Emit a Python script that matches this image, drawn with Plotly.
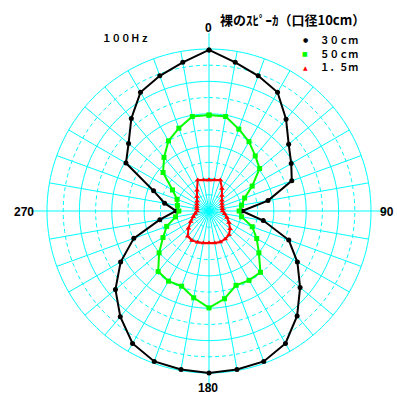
import plotly.graph_objects as go

# Measurement angles (degrees, clockwise from front)
angles = list(range(0, 360, 10))

# Relative level in dB, outer ring = 0 dB, centre = -50 dB
level_30cm = [-0.3, -3.4, -5.6, -7.7, -13.0, -17.9, -20.7, -22.8, -31.5, -39.8,
              -33.0, -23.8, -18.5, -13.3, -7.7, -2.8, -0.6, -0.3, 0.0, -0.3,
              -0.6, -2.8, -7.4, -12.3, -18.5, -25.3, -34.6, -39.8, -36.1, -31.8,
              -20.4, -17.6, -12.7, -7.7, -5.6, -3.4]
level_50cm = [-20.4, -20.4, -23.1, -25.3, -27.8, -29.6, -34.6, -38.3, -39.8, -40.7,
              -39.8, -35.8, -33.0, -29.9, -25.3, -25.3, -25.6, -22.5, -20.1, -22.8,
              -25.3, -25.0, -25.6, -29.9, -33.6, -36.1, -39.5, -40.7, -40.1, -39.5,
              -37.0, -31.5, -28.4, -25.0, -22.8, -20.4]
level_1_5m = [-40.4, -40.3, -39.8, -42.0, -43.8, -44.8, -45.4, -45.7, -45.8, -45.8,
              -45.1, -44.1, -42.9, -41.5, -40.4, -40.0, -39.8, -40.0, -40.1, -40.0,
              -39.7, -39.5, -39.8, -41.7, -43.5, -44.8, -45.7, -46.3, -46.2, -46.0,
              -45.7, -45.2, -44.2, -42.6, -39.8, -40.3]

series_names = ["３０ｃｍ", "５０ｃｍ", "１．５ｍ"]
series_colors = ["#000000", "#00ff00", "#ff0000"]
series_symbols = ["circle", "square", "triangle-up"]

axis_labels = ["0", "90", "180", "270"]

R_MIN, R_MAX, R_AXIS = -50, 0, 5
GRID = "#00ffff"

fig = go.Figure()

# Concentric rings every 5 dB: solid on the 10 dB steps, dashed between
ring_theta = [i * 2 for i in range(181)]
for lvl in range(-45, 1, 5):
    solid = (lvl % 10 == 0)
    fig.add_trace(go.Scatterpolar(
        r=[lvl] * len(ring_theta), theta=ring_theta, mode="lines",
        line=dict(color=GRID, width=1, dash="solid" if solid else "4px,3px"),
        hoverinfo="skip", showlegend=False))

# Spokes every 10 degrees; the four main axes run past the outer ring
sp_r, sp_t = [], []
for a in range(0, 360, 10):
    end = R_AXIS if a % 90 == 0 else R_MAX
    sp_r += [R_MIN, end, None]
    sp_t += [a, a, None]
fig.add_trace(go.Scatterpolar(r=sp_r, theta=sp_t, mode="lines",
                              line=dict(color=GRID, width=1),
                              hoverinfo="skip", showlegend=False))

# Directivity curves
for vals, name, col, sym in zip([level_30cm, level_50cm, level_1_5m],
                                series_names, series_colors, series_symbols):
    fig.add_trace(go.Scatterpolar(
        r=vals + vals[:1], theta=angles + angles[:1], mode="lines+markers",
        name=name, line=dict(color=col, width=2),
        marker=dict(color=col, symbol=sym, size=5),
        showlegend=False))

half = (R_AXIS - R_MIN) * 3.24  # pixel radius of the plotting frame
cx, cy, W, H = 209, 211, 397, 396
fig.update_layout(
    width=W, height=H, margin=dict(l=0, r=0, t=0, b=0),
    paper_bgcolor="white", plot_bgcolor="white",
    polar=dict(
        domain=dict(x=[(cx - half) / W, (cx + half) / W],
                    y=[(H - cy - half) / H, (H - cy + half) / H]),
        bgcolor="white",
        radialaxis=dict(range=[R_MIN, R_AXIS], visible=False),
        angularaxis=dict(rotation=90, direction="clockwise",
                         showticklabels=False, showgrid=False, showline=False,
                         ticks=""),
    ),
)

cjk = "Noto Sans CJK JP"
lab_font = dict(family="Liberation Sans", size=12, color="black")
anns = [
    dict(text="<b>裸のｽﾋﾟｰｶ（口径10cm）</b>", x=218, y=19, xanchor="left",
         font=dict(family=cjk, size=13, color="black")),
    dict(text="<b>１００Ｈｚ</b>", x=100, y=38, xanchor="left",
         font=dict(family=cjk, size=9.5, color="black")),
    # direction labels at the ends of the main axes
    dict(text="<b>" + axis_labels[0] + "</b>", x=208, y=28, xanchor="center", font=lab_font),
    dict(text="<b>" + axis_labels[1] + "</b>", x=396, y=212, xanchor="right", font=lab_font),
    dict(text="<b>" + axis_labels[2] + "</b>", x=208, y=388, xanchor="center", font=lab_font),
    dict(text="<b>" + axis_labels[3] + "</b>", x=12, y=212, xanchor="left", font=lab_font),
]
legend_rows = [40, 53.5, 67]
legend_marks = ["●", "■", "▲"]
for yy, mk, name, col in zip(legend_rows, legend_marks, series_names, series_colors):
    anns.append(dict(text=mk, x=305, y=yy, xanchor="center",
                     font=dict(family="DejaVu Sans", size=6, color=col)))
    anns.append(dict(text="<b>" + name + "</b>", x=318, y=yy, xanchor="left",
                     font=dict(family=cjk, size=9.5, color="black")))
for a in anns:
    a.update(xref="paper", yref="paper", showarrow=False, yanchor="middle")
    a["x"] = a["x"] / W
    a["y"] = 1 - a["y"] / H
fig.update_layout(annotations=anns)

fig.write_html("out.html")
